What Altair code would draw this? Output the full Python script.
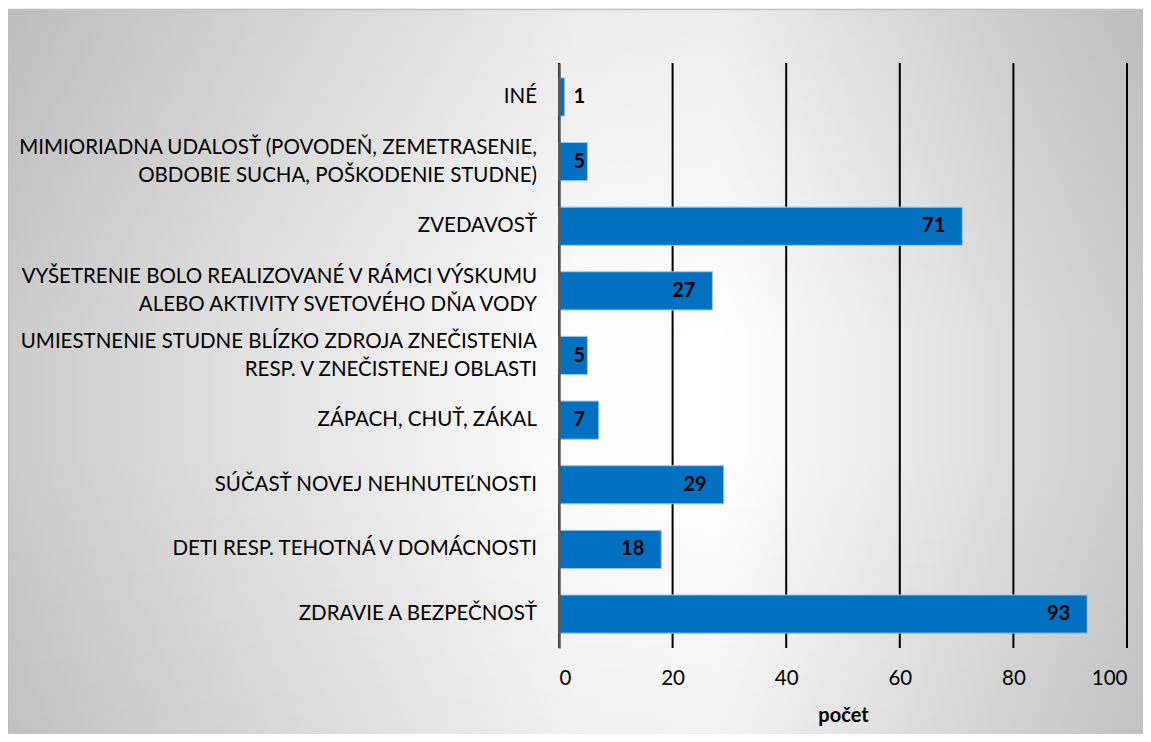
import altair as alt
import pandas as pd

categories = [
    "INÉ",
    "MIMIORIADNA UDALOSŤ (POVODEŇ, ZEMETRASENIE,|OBDOBIE SUCHA, POŠKODENIE STUDNE)",
    "ZVEDAVOSŤ",
    "VYŠETRENIE BOLO REALIZOVANÉ V RÁMCI VÝSKUMU|ALEBO AKTIVITY SVETOVÉHO DŇA VODY",
    "UMIESTNENIE STUDNE BLÍZKO ZDROJA ZNEČISTENIA|RESP. V ZNEČISTENEJ OBLASTI",
    "ZÁPACH, CHUŤ, ZÁKAL",
    "SÚČASŤ NOVEJ NEHNUTEĽNOSTI",
    "DETI RESP. TEHOTNÁ V DOMÁCNOSTI",
    "ZDRAVIE A BEZPEČNOSŤ",
]
values = [1, 5, 71, 27, 5, 7, 29, 18, 93]
x_ticks = [0, 20, 40, 60, 80, 100]

df = pd.DataFrame({"kat": categories, "pocet": values})
grid_df = pd.DataFrame({"v": x_ticks})

FONT = "Lato"
LABEL_SIZE = 20.5
PW, PH = 568, 585
PL, PT = 551, 55
TW, TH = 1135, 726

one = pd.DataFrame({"a": [0]})
bg_h = alt.Chart(one).mark_rect(
    color=alt.Gradient(
        gradient="linear",
        stops=[alt.GradientStop(color="#cbcbcb", offset=0),
               alt.GradientStop(color="#fdfdfd", offset=0.5),
               alt.GradientStop(color="#ffffff", offset=0.62),
               alt.GradientStop(color="#cacaca", offset=1)],
        x1=0, y1=0, x2=1, y2=0,
    ),
    stroke="#bdbdbd", strokeWidth=1.5,
).encode(
    x=alt.value(-PL + 0.5), x2=alt.value(TW - PL + 10),
    y=alt.value(-PT + 1.5), y2=alt.value(TH - PT + 10),
)
bg_v = alt.Chart(one).mark_rect(
    color=alt.Gradient(
        gradient="linear",
        stops=[alt.GradientStop(color="rgba(0,0,0,0.07)", offset=0),
               alt.GradientStop(color="rgba(0,0,0,0)", offset=0.45),
               alt.GradientStop(color="rgba(0,0,0,0)", offset=0.6),
               alt.GradientStop(color="rgba(0,0,0,0.05)", offset=1)],
        x1=0, y1=0, x2=0, y2=1,
    ),
).encode(
    x=alt.value(-PL + 1.5), x2=alt.value(TW - PL + 10),
    y=alt.value(-PT + 2.5), y2=alt.value(TH - PT + 10),
)

xscale = alt.Scale(domain=[0, 100], nice=False)
xaxis = alt.Axis(values=x_ticks, title="počet", titleFont=FONT,
                 titleFontSize=20, titleFontWeight="bold", titleColor="#000000",
                 titlePadding=17, labelFont=FONT, labelFontSize=LABEL_SIZE,
                 labelColor="#000000", labelPadding=20, ticks=False,
                 domain=False, grid=False, zindex=1)
yscale = alt.Scale(paddingInner=0.41, paddingOuter=0.23)
yaxis = alt.Axis(title=None, labels=False, ticks=False,
                 domainColor="#595959", domainWidth=2.5, zindex=1)

grid = alt.Chart(grid_df).mark_rule(color="#000000", strokeWidth=2).encode(
    x=alt.X("v:Q", scale=xscale, axis=xaxis, title="počet"),
    y=alt.value(0), y2=alt.value(PH),
)

bars = alt.Chart(df).mark_bar(color="#0070C0", stroke="#9DC3E6", strokeWidth=1).encode(
    x=alt.X("pocet:Q", scale=xscale, axis=xaxis, title="počet"),
    y=alt.Y("kat:N", sort=categories, scale=yscale, axis=yaxis),
)

ycat = alt.Y("kat:N", sort=categories, scale=yscale, axis=yaxis)

cat_one = alt.Chart(df).transform_filter("indexof(datum.kat, '|') < 0").mark_text(
    align="right", baseline="middle", font=FONT, fontSize=LABEL_SIZE, color="#000000"
).encode(x=alt.value(-22), y=ycat, text="kat:N")

cat_two = alt.Chart(df).transform_filter("indexof(datum.kat, '|') >= 0").transform_calculate(
    lines="split(datum.kat, '|')"
).mark_text(
    align="right", baseline="middle", font=FONT, fontSize=LABEL_SIZE, color="#000000",
    lineHeight=28, dy=-14
).encode(x=alt.value(-22), y=ycat, text="lines:N")

lab_big = alt.Chart(df).transform_filter("datum.pocet >= 10").mark_text(
    align="right", dx=-17, font=FONT, fontSize=20, fontWeight="bold", color="#000000"
).encode(x=alt.X("pocet:Q", scale=xscale, axis=xaxis, title="počet"), y=ycat, text="pocet:Q")

lab_small = alt.Chart(df).transform_filter("datum.pocet < 10").mark_text(
    align="right", dx=26, font=FONT, fontSize=20, fontWeight="bold", color="#000000"
).encode(x=alt.datum(0), y=ycat, text="pocet:Q")

chart = alt.layer(bg_h, bg_v, grid, bars, cat_one, cat_two, lab_big, lab_small).properties(
    width=PW, height=PH,
    autosize=alt.AutoSizeParams(type="none"),
    padding={"left": PL, "top": PT, "right": TW - PL - PW, "bottom": TH - PT - PH},
).configure_view(stroke=None).configure(background="#ffffff")

chart.save("out.html", embed_options={"renderer": "svg", "actions": False})
